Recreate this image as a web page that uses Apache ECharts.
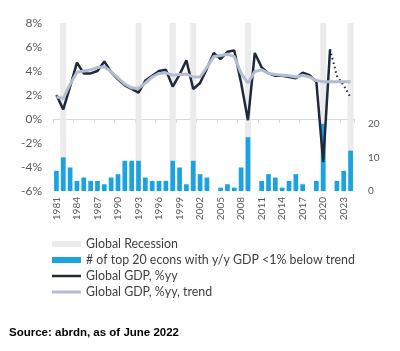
<!DOCTYPE html>
<html>
<head>
<meta charset="utf-8">
<script src="https://cdn.jsdelivr.net/npm/echarts@6/dist/echarts.min.js"></script>
<style>html,body{margin:0;padding:0;background:#fff;}#c{width:400px;height:351px;}</style>
</head>
<body>
<div id="c"></div>
<script>
const years = ['1981','1982','1983','1984','1985','1986','1987','1988','1989','1990',
  '1991','1992','1993','1994','1995','1996','1997','1998','1999','2000',
  '2001','2002','2003','2004','2005','2006','2007','2008','2009','2010',
  '2011','2012','2013','2014','2015','2016','2017','2018','2019','2020',
  '2021','2022','2023','2024'];
const lastActualYear = '2021';
const gdp = [2.0,0.8,2.7,4.7,3.8,3.8,4.0,4.8,3.9,3.3,
  2.8,2.5,2.2,3.2,3.6,4.0,4.1,2.7,3.7,4.9,
  2.5,3.0,4.2,5.5,5.0,5.6,5.7,3.0,-0.1,5.5,
  4.3,3.8,3.6,3.6,3.5,3.4,3.85,3.65,3.1,-3.6,
  5.8,3.6,2.8,1.8];
const gdpTrend = [1.85,1.7,2.9,3.9,4.0,4.1,4.3,4.35,3.95,3.4,
  2.9,2.6,2.55,3.0,3.5,3.8,3.85,3.65,3.7,3.75,
  3.5,3.5,4.3,5.2,5.3,5.4,5.2,3.8,3.0,3.95,
  4.1,3.8,3.7,3.65,3.6,3.5,3.65,3.5,3.2,3.1,
  3.1,3.1,3.1,3.1];
const econsBelowTrend = [6,10,7,3,4,3,3,2,4,5,
  9,9,9,4,3,3,3,9,7,2,
  9,5,4,0,1,2,1,7,16,0,
  3,5,4,1,3,5,2,0,3,20,
  0,3,6,12];
const recessionYears = ['1982','1993','1998','2001','2009','2020','2024'];
const leftTicks = {min: -6, max: 8, interval: 2};
const rightTicks = {min: 0, max: 50, interval: 10, maxLabel: 20};

const names = {
  rec: 'Global Recession',
  bars: '# of top 20 econs with y/y GDP <1% below trend',
  gdp: 'Global GDP, %yy',
  trend: 'Global GDP, %yy, trend'
};

const cut = years.indexOf(lastActualYear);
const gdpActual = gdp.map((v, i) => i <= cut ? v : null);
const gdpForecast = gdp.map((v, i) => i >= cut ? v : null);
const recessionData = years.map(y => recessionYears.includes(y) ? rightTicks.max : null);

const FONT = 'Lato';
const DARK = '#1f2939', TREND = '#b2bdd4', BLUE = '#1aa3e0', GREY = '#ebebeb';
const chart = echarts.init(document.getElementById('c'), null, {renderer: 'canvas'});
chart.setOption({
  animation: false,
  textStyle: {fontFamily: FONT},
  grid: {left: 53, right: 46, top: 23, bottom: 160, containLabel: false},
  legend: {
    orient: 'vertical', left: 47, top: 233,
    itemWidth: 29, itemHeight: 6, itemGap: 4,
    symbolKeepAspect: true,
    textStyle: {fontFamily: FONT, fontSize: 12.4, color: '#404040'},
    data: [
      {name: names.rec, icon: 'rect'},
      {name: names.bars, icon: 'rect'},
      {name: names.gdp, icon: 'path://M0,0H29V2.5H0Z', itemStyle: {color: DARK}},
      {name: names.trend, icon: 'path://M0,0H29V3H0Z', itemStyle: {color: TREND}}
    ]
  },
  xAxis: [
    {
      type: 'category', data: years, position: 'bottom',
      axisLine: {onZero: true, onZeroAxisIndex: 0, lineStyle: {color: '#d9d9d9', width: 1}},
      axisTick: {show: true, interval: 2, length: 4, lineStyle: {color: '#d9d9d9'}},
      axisLabel: {show: false}
    },
    {
      type: 'category', data: years, position: 'bottom',
      axisLine: {show: false, onZero: false},
      axisTick: {show: false},
      axisLabel: {show: true, interval: 2, rotate: 90, margin: 6, fontSize: 10, color: '#595959', fontFamily: FONT}
    }
  ],
  yAxis: [
    {
      type: 'value', min: leftTicks.min, max: leftTicks.max, interval: leftTicks.interval,
      axisLine: {show: false}, axisTick: {show: false}, splitLine: {show: false},
      axisLabel: {fontSize: 12, color: '#595959', margin: 11, formatter: v => v + '%'}
    },
    {
      type: 'value', min: rightTicks.min, max: rightTicks.max, interval: rightTicks.interval,
      position: 'right',
      axisLine: {show: false}, axisTick: {show: false}, splitLine: {show: false},
      axisLabel: {fontSize: 10, color: '#595959', margin: 14,
        formatter: v => v <= rightTicks.maxLabel ? String(v) : ''}
    }
  ],
  series: [
    {
      name: names.rec, type: 'bar', xAxisIndex: 1, yAxisIndex: 1,
      data: recessionData, barWidth: 6, itemStyle: {color: GREY}, z: 1
    },
    {
      name: names.bars, type: 'bar', xAxisIndex: 0, yAxisIndex: 1,
      data: econsBelowTrend, barWidth: 4.7, itemStyle: {color: BLUE}, z: 2
    },
    {
      name: names.gdp, type: 'line', xAxisIndex: 0, yAxisIndex: 0,
      data: gdpActual, symbol: 'none', connectNulls: false,
      lineStyle: {color: DARK, width: 2.5}, itemStyle: {color: DARK}, z: 4
    },
    {
      name: 'forecast', type: 'line', xAxisIndex: 0, yAxisIndex: 0,
      data: gdpForecast, symbol: 'none',
      lineStyle: {color: DARK, width: 2, type: [1.5, 3]}, z: 4
    },
    {
      name: names.trend, type: 'line', xAxisIndex: 0, yAxisIndex: 0,
      data: gdpTrend, symbol: 'none',
      lineStyle: {color: TREND, width: 3}, itemStyle: {color: TREND}, z: 5
    }
  ],
  graphic: [
    {
      type: 'text', left: 9, top: 327,
      style: {text: 'Source: abrdn, as of June 2022', fontFamily: 'Liberation Sans',
        fontWeight: 'bold', fontSize: 11.5, fill: '#000'}
    }
  ]
});
</script>
</body>
</html>
